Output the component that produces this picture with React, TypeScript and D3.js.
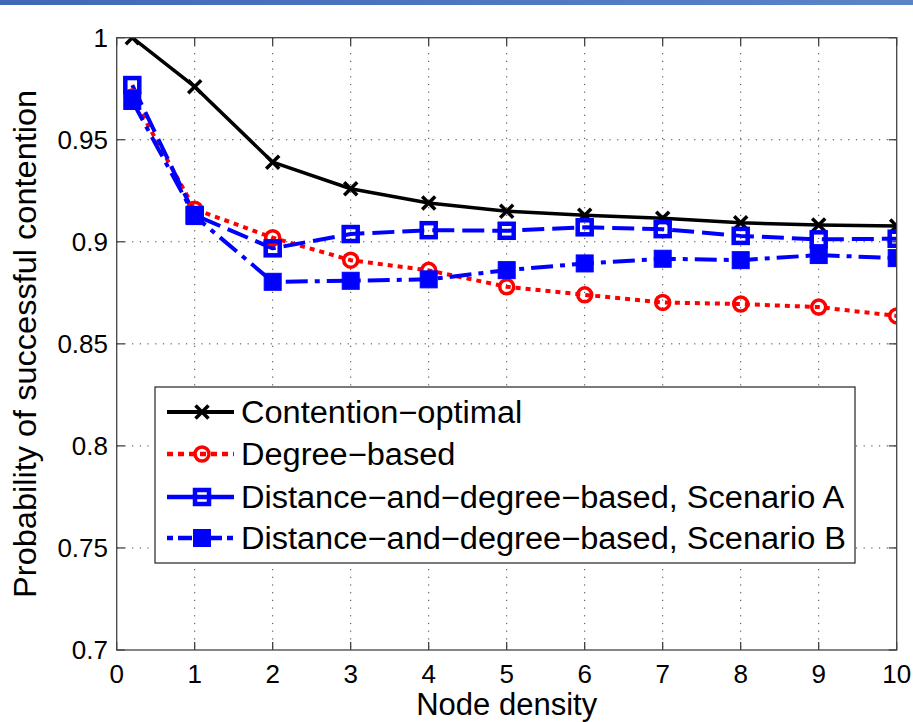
import React from "react";
import * as d3 from "d3";

const xs = [0.2, 1, 2, 3, 4, 5, 6, 7, 8, 9, 10];
const optimal = [1.0, 0.976, 0.939, 0.926, 0.919, 0.915, 0.913, 0.9115, 0.9093, 0.9082, 0.9077];
const degree = [0.971, 0.916, 0.902, 0.891, 0.886, 0.878, 0.874, 0.8703, 0.8695, 0.868, 0.8637];
const scenA = [0.9768, 0.9131, 0.8968, 0.9038, 0.9057, 0.9054, 0.9071, 0.9062, 0.9029, 0.9012, 0.9015];
const scenB = [0.969, 0.9126, 0.8804, 0.8809, 0.8816, 0.8861, 0.8894, 0.8917, 0.891, 0.8935, 0.892];
const xTicks = [0, 1, 2, 3, 4, 5, 6, 7, 8, 9, 10];
const yTicks = [0.7, 0.75, 0.8, 0.85, 0.9, 0.95, 1];
const yTickLabels = ["0.7", "0.75", "0.8", "0.85", "0.9", "0.95", "1"];
const seriesNames = [
  "Contention\u2212optimal",
  "Degree\u2212based",
  "Distance\u2212and\u2212degree\u2212based, Scenario A",
  "Distance\u2212and\u2212degree\u2212based, Scenario B",
];

const W = 913, H = 722;
const L = 116.7, R = 896.7, T = 37.7, B = 650;
const FONT = "'Liberation Sans', Arial, Helvetica, sans-serif";

type Style = { color: string; dash: string; legendDash: string; width: number; marker: string };
const styles: Style[] = [
  { color: "#000000", dash: "none", legendDash: "none", width: 3.5, marker: "x" },
  { color: "#ff0000", dash: "5 5", legendDash: "6 5", width: 4, marker: "o" },
  { color: "#0000ff", dash: "22 8", legendDash: "none", width: 4, marker: "sq" },
  { color: "#0000ff", dash: "22 7 5 7", legendDash: "6 5 14 5", width: 4, marker: "sqf" },
];

function Marker({ x, y, s }: { x: number; y: number; s: Style }) {
  if (s.marker === "x") {
    const r = 6.5;
    return (
      <g stroke={s.color} strokeWidth={3.5}>
        <line x1={x - r} y1={y - r} x2={x + r} y2={y + r} />
        <line x1={x - r} y1={y + r} x2={x + r} y2={y - r} />
      </g>
    );
  }
  if (s.marker === "o") {
    return <circle cx={x} cy={y} r={7} fill="none" stroke={s.color} strokeWidth={3.5} />;
  }
  if (s.marker === "sq") {
    const h = 7;
    return <rect x={x - h} y={y - h} width={2 * h} height={2 * h} fill="none" stroke={s.color} strokeWidth={4.5} />;
  }
  const h = 8.5;
  return <rect x={x - h} y={y - h} width={2 * h} height={2 * h} fill={s.color} stroke={s.color} strokeWidth={1} />;
}

export default function App() {
  const x = d3.scaleLinear().domain([0, 10]).range([L, R]);
  const y = d3.scaleLinear().domain([0.7, 1]).range([B, T]);
  const data = [optimal, degree, scenA, scenB];
  const line = d3
    .line<number>()
    .x((_, i) => x(xs[i]))
    .y((v) => y(v));

  const legendRows = [412, 454, 497, 538];

  return (
    <svg width={W} height={H} style={{ position: "absolute", left: 0, top: 0, background: "#fff" }} fontFamily={FONT}>
      <defs>
        <linearGradient id="topbar" x1="0" x2="1" y1="0" y2="0">
          <stop offset="0" stopColor="#4068b8" />
          <stop offset="1" stopColor="#5a85c8" />
        </linearGradient>
        <clipPath id="plotclip">
          <rect x={L} y={T} width={R - L} height={B - T} />
        </clipPath>
      </defs>
      <rect x={0} y={0} width={W} height={H} fill="#fff" />
      <rect x={0} y={0} width={W} height={5} fill="url(#topbar)" />

      {/* grid */}
      <g stroke="#000" strokeWidth={1} strokeDasharray="1.2 6.5" opacity={0.75}>
        {xTicks.slice(1, -1).map((t) => (
          <line key={"gx" + t} x1={x(t)} x2={x(t)} y1={T} y2={B} />
        ))}
        {yTicks.slice(1, -1).map((t) => (
          <line key={"gy" + t} x1={L} x2={R} y1={y(t)} y2={y(t)} />
        ))}
      </g>

      {/* ticks */}
      <g stroke="#333" strokeWidth={1.2}>
        {xTicks.map((t) => (
          <g key={"tx" + t}>
            <line x1={x(t)} x2={x(t)} y1={B} y2={B - 8} />
            <line x1={x(t)} x2={x(t)} y1={T} y2={T + 8} />
          </g>
        ))}
        {yTicks.map((t) => (
          <g key={"ty" + t}>
            <line x1={L} x2={L + 8} y1={y(t)} y2={y(t)} />
            <line x1={R} x2={R - 8} y1={y(t)} y2={y(t)} />
          </g>
        ))}
      </g>

      {/* series */}
      <g clipPath="url(#plotclip)">
        {data.map((d, k) => (
          <path
            key={"l" + k}
            d={line(d) || ""}
            fill="none"
            stroke={styles[k].color}
            strokeWidth={styles[k].width}
            strokeDasharray={styles[k].dash}
            strokeLinejoin="round"
          />
        ))}
        {data.map((d, k) =>
          d.map((v, i) => <Marker key={"m" + k + "-" + i} x={x(xs[i])} y={y(v)} s={styles[k]} />)
        )}
      </g>

      {/* axes box */}
      <rect x={L} y={T} width={R - L} height={B - T} fill="none" stroke="#444" strokeWidth={1.3} />

      {/* tick labels */}
      <g fontSize={26} fill="#000">
        {xTicks.map((t) => (
          <text key={"xl" + t} x={x(t)} y={683} textAnchor="middle">
            {String(t)}
          </text>
        ))}
        {yTicks.map((t, i) => (
          <text key={"yl" + t} x={108} y={y(t) + 9} textAnchor="end">
            {yTickLabels[i]}
          </text>
        ))}
      </g>

      <text x={(L + R) / 2} y={715} textAnchor="middle" fontSize={31}>
        Node density
      </text>
      <text transform={`translate(36, ${(T + B) / 2}) rotate(-90) scale(1.05,1)`} textAnchor="middle" fontSize={31}>
        Probability of successful contention
      </text>

      {/* legend */}
      <rect x={155} y={387} width={700} height={176} fill="#fff" stroke="#333" strokeWidth={1.3} />
      {seriesNames.map((name, k) => {
        const cy = legendRows[k];
        const s = styles[k];
        return (
          <g key={"lg" + k}>
            <line x1={167} x2={234} y1={cy} y2={cy} stroke={s.color} strokeWidth={s.width + 0.5} strokeDasharray={s.legendDash} />
            <Marker x={202} y={cy} s={s} />
            <text transform={`translate(241, ${cy + 11}) scale(1.05,1)`} fontSize={31}>
              {name}
            </text>
          </g>
        );
      })}
    </svg>
  );
}
